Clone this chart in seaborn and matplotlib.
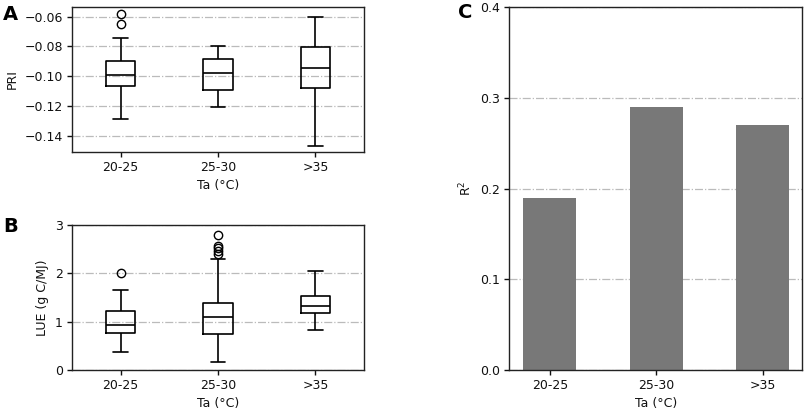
import numpy as np
import pandas as pd
import matplotlib
matplotlib.use("Agg")
import matplotlib.pyplot as plt
import seaborn as sns

# categories shared by all panels
ta_classes = ["20-25", "25-30", ">35"]

pri_20_25 = [-0.129, -0.118, -0.112, -0.1064, -0.104, -0.101, -0.099,
             -0.096, -0.093, -0.090, -0.0745, -0.065, -0.058]
pri_25_30 = [-0.1207, -0.115, -0.1095, -0.103, -0.0977, -0.093, -0.0887,
             -0.084, -0.0795]
pri_35 = [-0.147, -0.125, -0.108, -0.100, -0.0945, -0.087, -0.0804,
          -0.070, -0.060]

lue_20_25 = [0.372, 0.60, 0.772, 0.85, 0.924, 1.05, 1.214, 1.648, 2.0]
lue_25_30 = [0.159, 0.30, 0.42, 0.53, 0.62, 0.70, 0.752, 0.80, 0.86, 0.92,
             0.98, 1.04, 1.103, 1.16, 1.21, 1.26, 1.31, 1.35, 1.386,
             2.29, 2.39, 2.46, 2.52, 2.57, 2.80]
lue_35 = [0.834, 1.0, 1.172, 1.25, 1.317, 1.42, 1.531, 1.80, 2.055]

# R2 per temperature class (panel C)
r2_values = [0.19, 0.29, 0.27]


def long_df(groups, name):
    frames = []
    for cat, vals in zip(ta_classes, groups):
        frames.append(pd.DataFrame({"Ta": cat, name: vals}))
    return pd.concat(frames, ignore_index=True)


pri_df = long_df([pri_20_25, pri_25_30, pri_35], "PRI")
lue_df = long_df([lue_20_25, lue_25_30, lue_35], "LUE")
r2_df = pd.DataFrame({"Ta": ta_classes, "R2": r2_values})

sns.set_theme(style="ticks")
plt.rcParams["font.family"] = ["DejaVu Sans"]
plt.rcParams["axes.edgecolor"] = "#222222"
plt.rcParams["axes.linewidth"] = 1.0
for key in ("text.color", "axes.labelcolor", "xtick.color", "ytick.color",
            "xtick.labelcolor", "ytick.labelcolor"):
    plt.rcParams[key] = "#111111"

fig = plt.figure(figsize=(8.09, 4.16), dpi=100)
ax_a = fig.add_axes([0.089, 0.635, 0.361, 0.348])
ax_b = fig.add_axes([0.089, 0.111, 0.361, 0.348])
ax_c = fig.add_axes([0.6295, 0.111, 0.3622, 0.871])

grid_kw = dict(linestyle="-.", color="#bbbbbb", linewidth=0.9)
flier = dict(marker="o", markerfacecolor="none", markeredgecolor="black",
             markersize=6, markeredgewidth=1.0)


def draw_box(ax, df, col):
    sns.boxplot(data=df, x="Ta", y=col, order=ta_classes, ax=ax,
                width=0.3, fill=False, color="black", linecolor="black",
                linewidth=1.2, whis=1.5, flierprops=flier)
    ax.set_axisbelow(True)
    ax.yaxis.grid(True, **grid_kw)
    ax.set_xlim(-0.5, 2.5)


draw_box(ax_a, pri_df, "PRI")
ax_a.set_ylim(-0.151, -0.0535)
ax_a.set_yticks([-0.14, -0.12, -0.10, -0.08, -0.06])
ax_a.set_ylabel("PRI", fontsize=9)

draw_box(ax_b, lue_df, "LUE")
ax_b.set_ylim(0, 3)
ax_b.set_yticks([0, 1, 2, 3])
ax_b.set_ylabel("LUE (g C/MJ)", fontsize=9)

sns.barplot(data=r2_df, x="Ta", y="R2", order=ta_classes, ax=ax_c,
            color="#787878", saturation=1, width=0.5, linewidth=0)
ax_c.set_axisbelow(True)
ax_c.yaxis.grid(True, **grid_kw)
ax_c.set_xlim(-0.38, 2.37)
ax_c.set_ylim(0, 0.4)
ax_c.set_yticks([0.0, 0.1, 0.2, 0.3, 0.4])
ax_c.set_ylabel("R$^2$", fontsize=9)

for ax in (ax_a, ax_b, ax_c):
    ax.set_xlabel("Ta (°C)", fontsize=9, labelpad=4)
    ax.tick_params(labelsize=9, length=3.5, width=1.0, pad=3)
    for s in ax.spines.values():
        s.set_visible(True)

fig.text(0.004, 0.952, "A", fontsize=14, fontweight="bold", color="black")
fig.text(0.004, 0.443, "B", fontsize=14, fontweight="bold", color="black")
fig.text(0.566, 0.956, "C", fontsize=14, fontweight="bold", color="black")

fig.savefig("out.png", dpi=100)
